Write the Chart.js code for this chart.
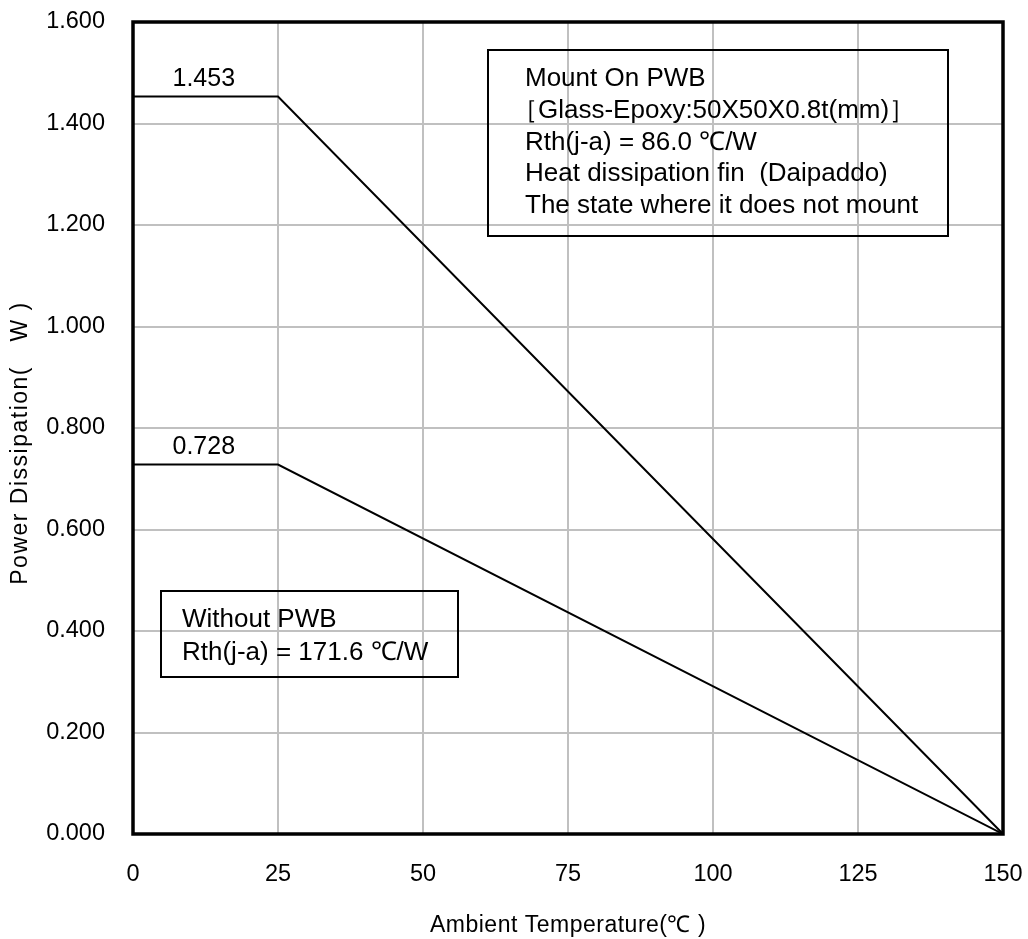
<!DOCTYPE html>
<html>
<head>
<meta charset="utf-8">
<script src="https://cdn.jsdelivr.net/npm/chart.js@4.4.1/dist/chart.umd.min.js"></script>
<style>
html,body{margin:0;padding:0;background:#fff;}
#wrap{width:1028px;height:939px;}
</style>
</head>
<body>
<div id="wrap"><canvas id="c" width="1028" height="939"></canvas></div>
<script>
const temps = [0, 25, 150];
const mountOnPWB = [1.453, 1.453, 0];
const withoutPWB = [0.728, 0.728, 0];
const xTicks = [0, 25, 50, 75, 100, 125, 150];
const yTicks = [0, 0.2, 0.4, 0.6, 0.8, 1.0, 1.2, 1.4, 1.6];
const peakLabels = ['1.453', '0.728'];
const box1Lines = ['Mount On PWB', '［Glass-Epoxy:50X50X0.8t(mm)］', 'Rth(j-a) = 86.0 ℃/W', 'Heat dissipation fin  (Daipaddo)', 'The state where it does not mount'];
const box2Lines = ['Without PWB', 'Rth(j-a) = 171.6 ℃/W'];
const xTitle = 'Ambient Temperature(℃ )';
const yTitle = 'Power Dissipation(　W )';

const FONT = "'Liberation Sans', Arial, sans-serif";

const decor = {
  id: 'decor',
  afterDatasetsDraw(chart) {
    const {ctx, chartArea: a, scales: {x, y}} = chart;
    ctx.save();
    // frame
    ctx.strokeStyle = '#000';
    ctx.lineWidth = 3.5;
    ctx.strokeRect(a.left, a.top, a.right - a.left, a.bottom - a.top);
    // peak labels
    ctx.fillStyle = '#000';
    ctx.font = '25px ' + FONT;
    ctx.textAlign = 'center';
    ctx.textBaseline = 'alphabetic';
    ctx.fillText(peakLabels[0], x.getPixelForValue(12.2), y.getPixelForValue(mountOnPWB[0]) - 11);
    ctx.fillText(peakLabels[1], x.getPixelForValue(12.2), y.getPixelForValue(withoutPWB[0]) - 11);
    // boxes
    ctx.lineWidth = 2;
    ctx.textAlign = 'left';
    ctx.font = '26px ' + FONT;
    ctx.strokeRect(488, 50, 460, 186);
    box1Lines.forEach((t, i) => ctx.fillText(t, i === 1 ? 512 : 525, 86 + i * 31.8));
    ctx.strokeRect(161, 591, 297, 86);
    box2Lines.forEach((t, i) => ctx.fillText(t, 182, 627 + i * 33));
    // axis titles
    ctx.font = '23px ' + FONT;
    ctx.letterSpacing = '0.5px';
    ctx.textAlign = 'center';
    ctx.fillText(xTitle, 568, 932);
    ctx.translate(27, 443);
    ctx.rotate(-Math.PI / 2);
    ctx.letterSpacing = '1.5px';
    ctx.fillText(yTitle, 0, 0);
    ctx.restore();
  }
};

new Chart(document.getElementById('c'), {
  type: 'line',
  data: {
    datasets: [
      {label: 'Mount On PWB', data: temps.map((t, i) => ({x: t, y: mountOnPWB[i]})), borderColor: '#000', borderWidth: 2, pointRadius: 0, tension: 0, fill: false},
      {label: 'Without PWB', data: temps.map((t, i) => ({x: t, y: withoutPWB[i]})), borderColor: '#000', borderWidth: 2, pointRadius: 0, tension: 0, fill: false}
    ]
  },
  options: {
    responsive: false,
    animation: false,
    events: [],
    layout: {padding: {top: 22, right: 25, left: 0, bottom: 0}},
    plugins: {legend: {display: false}, tooltip: {enabled: false}},
    scales: {
      x: {
        type: 'linear', min: 0, max: 150,
        afterBuildTicks: s => { s.ticks = xTicks.map(v => ({value: v})); },
        afterFit: s => { s.height = 105; s.paddingLeft = 0; s.paddingRight = 0; },
        grid: {color: '#c0c0c0', lineWidth: 2, drawTicks: false},
        border: {display: false},
        ticks: {color: '#000', font: {family: FONT, size: 23.5}, padding: 26, maxRotation: 0},
        title: {display: false}
      },
      y: {
        type: 'linear', min: 0, max: 1.6,
        afterBuildTicks: s => { s.ticks = yTicks.map(v => ({value: v})); },
        afterFit: s => { s.width = 133; s.paddingTop = 0; s.paddingBottom = 0; },
        grid: {color: '#c0c0c0', lineWidth: 2, drawTicks: false},
        border: {display: false},
        ticks: {color: '#000', font: {family: FONT, size: 23.5}, padding: 28, callback: v => v.toFixed(3)},
        title: {display: false}
      }
    }
  },
  plugins: [decor]
});
</script>
</body>
</html>
